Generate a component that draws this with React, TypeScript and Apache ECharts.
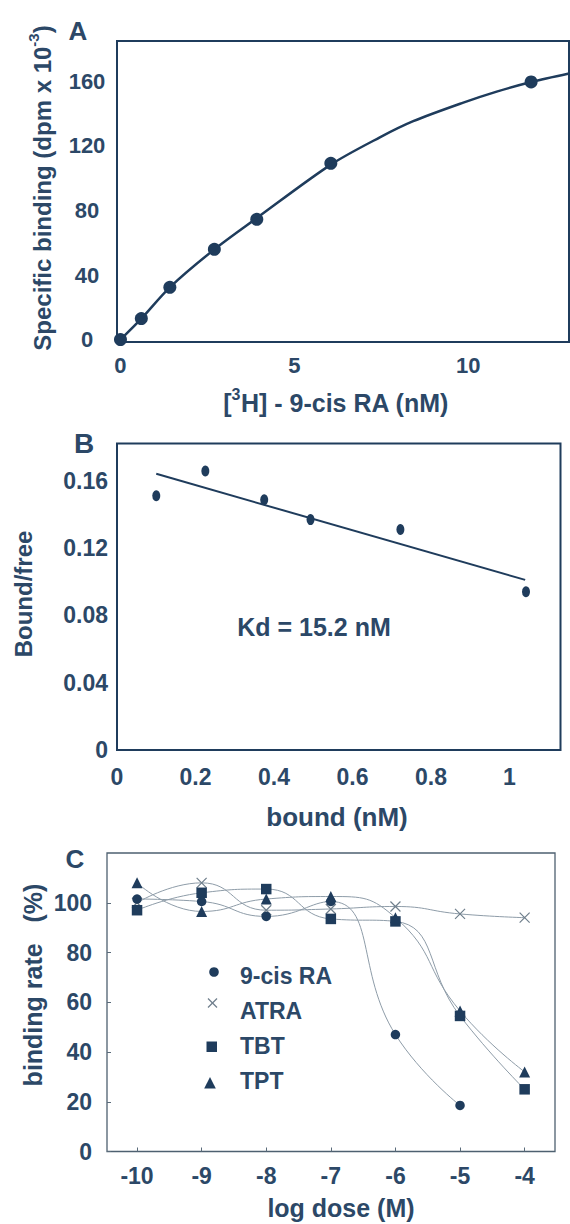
import { useEffect, useRef } from "react";
import * as echarts from "echarts";

const INK = "#1f3c5c";
const TEXT = "#2c4867";
const GREY = "#8e9ca8";
const CROSS = "#6f7f8c";
const FONT = "'Liberation Sans', Arial, sans-serif";

// Panel A: saturation binding
const aConc = [0, 0.6, 1.42, 2.7, 3.92, 6.05, 11.81];
const aBinding = [0, 13, 32.4, 55.9, 74.5, 109.2, 159.6];
// fitted curve
const aCurveConc = [0, 0.6, 1.42, 2.7, 3.92, 6.05, 7.46, 8.42, 9.86, 10.82, 11.81, 12.9];
const aCurveBinding = [0, 13, 32.4, 55.9, 75.3, 108.4, 125.3, 135.3, 146.8, 153.6, 159.6, 164.9];
const aXTicks = [0, 5, 10];
const aYTicks = [0, 40, 80, 120, 160];

// Panel B: Scatchard plot
const bBound = [0.1, 0.225, 0.375, 0.493, 0.722, 1.042];
const bRatio = [0.151, 0.1657, 0.1486, 0.1368, 0.1309, 0.094];
const bFitBound = [0.1, 1.04];
const bFitRatio = [0.164, 0.101];
const bXTicks = [0, 0.2, 0.4, 0.6, 0.8, 1];
const bYTicks = [0, 0.04, 0.08, 0.12, 0.16];

// Panel C: competition
const cLogDose = [-10, -9, -8, -7, -6, -5, -4];
const cCisRA = [101.5, 100.5, 94.5, 100.5, 47, 18.5];
const cATRA = [100, 108, 97, 97.5, 98.5, 95.5, 94];
const cTBT = [97, 104, 105.5, 93.5, 92.5, 54.5, 25];
const cTPT = [108, 96.5, 101.5, 102.5, 94, 56.5, 32];
const cYTicks = [0, 20, 40, 60, 80, 100];

const pairs = (xs: number[], ys: number[]) => ys.map((y, i) => [xs[i], y]);

const axis = (
  gridIndex: number,
  min: number,
  max: number,
  ticks: number[],
  label: any,
  tick: any = { show: false }
) => ({
  type: "value",
  gridIndex,
  min,
  max,
  axisLine: { show: false },
  splitLine: { show: false },
  axisTick: { ...tick, customValues: ticks },
  axisLabel: {
    customValues: ticks,
    color: TEXT,
    fontFamily: FONT,
    fontWeight: "bold",
    ...label,
  },
});

const txt = (
  x: number,
  y: number,
  text: string,
  size: number,
  extra: any = {}
) => ({
  type: "text",
  x,
  y,
  rotation: extra.rotation || 0,
  style: {
    text,
    fill: TEXT,
    fontFamily: FONT,
    fontWeight: "bold",
    fontSize: size,
    align: extra.align || "center",
    verticalAlign: "middle",
    ...(extra.rich ? { rich: extra.rich } : {}),
  },
});

const supRich = (size: number) => ({
  a: {
    fill: TEXT,
    fontFamily: FONT,
    fontWeight: "bold",
    fontSize: size,
    lineHeight: size + 4,
    verticalAlign: "bottom",
  },
  s: {
    fill: TEXT,
    fontFamily: FONT,
    fontWeight: "bold",
    fontSize: Math.round(size * 0.62),
    lineHeight: Math.round(size * 0.62),
    verticalAlign: "top",
  },
});

export default function App() {
  const ref = useRef<HTMLDivElement>(null);

  useEffect(() => {
    if (!ref.current) return;
    const chart = echarts.init(ref.current, null, { renderer: "svg" });
    const tickC = {
      show: true,
      inside: true,
      length: 4,
      lineStyle: { color: "#5a6b7a", width: 1 },
    };
    chart.setOption({
      animation: false,
      backgroundColor: "#ffffff",
      grid: [
        {
          left: 117,
          top: 41,
          width: 452,
          height: 301,
          show: true,
          borderColor: INK,
          borderWidth: 2,
        },
        {
          left: 117,
          top: 443.5,
          width: 443.5,
          height: 306.5,
          show: true,
          borderColor: INK,
          borderWidth: 2,
        },
        {
          left: 107,
          top: 853,
          width: 448,
          height: 298.5,
          show: true,
          borderColor: "#4e6070",
          borderWidth: 1.3,
        },
      ],
      xAxis: [
        axis(0, -0.1, 12.9, aXTicks, { fontSize: 22, margin: 12 }),
        axis(1, 0, 1.13, bXTicks, { fontSize: 23, margin: 15 }),
        axis(2, -10.465, -3.53, cLogDose, { fontSize: 23, margin: 13 }, tickC),
      ],
      yAxis: [
        axis(0, -1.5, 185, aYTicks, { fontSize: 22, margin: 30, align: "center" }),
        axis(1, 0, 0.182, bYTicks, { fontSize: 23, margin: 9 }),
        axis(2, 0, 120, cYTicks, { fontSize: 23, margin: 15 }, tickC),
      ],
      series: [
        {
          type: "line",
          xAxisIndex: 0,
          yAxisIndex: 0,
          data: pairs(aCurveConc, aCurveBinding),
          smooth: 0.3,
          showSymbol: false,
          lineStyle: { color: INK, width: 2.5 },
        },
        {
          type: "scatter",
          xAxisIndex: 0,
          yAxisIndex: 0,
          data: pairs(aConc, aBinding),
          symbol: "circle",
          symbolSize: 13,
          itemStyle: { color: INK, opacity: 1 },
        },
        {
          type: "line",
          xAxisIndex: 1,
          yAxisIndex: 1,
          data: pairs(bFitBound, bFitRatio),
          showSymbol: false,
          lineStyle: { color: INK, width: 2 },
        },
        {
          type: "scatter",
          xAxisIndex: 1,
          yAxisIndex: 1,
          data: pairs(bBound, bRatio),
          symbol: "circle",
          symbolSize: [8, 11],
          itemStyle: { color: INK, opacity: 1 },
        },
        {
          name: "ATRA",
          type: "line",
          xAxisIndex: 2,
          yAxisIndex: 2,
          data: pairs(cLogDose, cATRA),
          smooth: 0.5,
          symbol: "path://M0,0L10,10M10,0L0,10",
          symbolSize: 10,
          lineStyle: { color: GREY, width: 1 },
          itemStyle: { color: "none", borderColor: CROSS, borderWidth: 1.2 },
        },
        {
          name: "TPT",
          type: "line",
          xAxisIndex: 2,
          yAxisIndex: 2,
          data: pairs(cLogDose, cTPT),
          smooth: 0.5,
          symbol: "triangle",
          symbolSize: 11,
          lineStyle: { color: GREY, width: 1 },
          itemStyle: { color: INK },
        },
        {
          name: "TBT",
          type: "line",
          xAxisIndex: 2,
          yAxisIndex: 2,
          data: pairs(cLogDose, cTBT),
          smooth: 0.5,
          symbol: "rect",
          symbolSize: 10.5,
          lineStyle: { color: GREY, width: 1 },
          itemStyle: { color: INK },
        },
        {
          name: "9-cis RA",
          type: "line",
          xAxisIndex: 2,
          yAxisIndex: 2,
          data: pairs(cLogDose, cCisRA),
          smooth: 0.5,
          symbol: "circle",
          symbolSize: 9.5,
          lineStyle: { color: GREY, width: 1 },
          itemStyle: { color: INK },
        },
      ],
      graphic: [
        // panel letters
        txt(78, 31, "A", 26),
        txt(84, 443, "B", 28),
        txt(75, 859, "C", 26),
        // panel A titles
        txt(40, 188, "{a|Specific binding (dpm x 10}{s|-3}{a|)}", 24, {
          rotation: Math.PI / 2,
          rich: supRich(24),
        }),
        txt(336, 401, "{a|[}{s|3}{a|H] - 9-cis RA (nM)}", 25, {
          rich: supRich(25),
        }),
        // panel B titles
        txt(23, 594, "Bound/free", 24, { rotation: Math.PI / 2 }),
        txt(337, 817, "bound (nM)", 26),
        txt(314, 627, "Kd = 15.2 nM", 25),
        // panel C titles
        txt(33, 985, "binding rate   (%)", 25, { rotation: Math.PI / 2 }),
        txt(341, 1208, "log dose (M)", 25),
        // panel C legend
        {
          type: "circle",
          shape: { cx: 214, cy: 972, r: 4.8 },
          style: { fill: INK },
        },
        {
          type: "line",
          shape: { x1: 208, y1: 998.5, x2: 217, y2: 1007.5 },
          style: { stroke: CROSS, lineWidth: 1.2 },
        },
        {
          type: "line",
          shape: { x1: 217, y1: 998.5, x2: 208, y2: 1007.5 },
          style: { stroke: CROSS, lineWidth: 1.2 },
        },
        {
          type: "rect",
          shape: { x: 206.5, y: 1041.5, width: 10.5, height: 10.5 },
          style: { fill: INK },
        },
        {
          type: "polygon",
          shape: {
            points: [
              [210, 1077],
              [215.8, 1088.5],
              [204.2, 1088.5],
            ],
          },
          style: { fill: INK },
        },
        txt(240, 976, "9-cis RA", 23, { align: "left" }),
        txt(240, 1011, "ATRA", 23, { align: "left" }),
        txt(240, 1046, "TBT", 23, { align: "left" }),
        txt(240, 1081, "TPT", 23, { align: "left" }),
      ],
    });
    return () => chart.dispose();
  }, []);

  return (
    <div
      ref={ref}
      style={{
        position: "absolute",
        left: 0,
        top: 0,
        width: 570,
        height: 1224,
        background: "#fff",
      }}
    />
  );
}
